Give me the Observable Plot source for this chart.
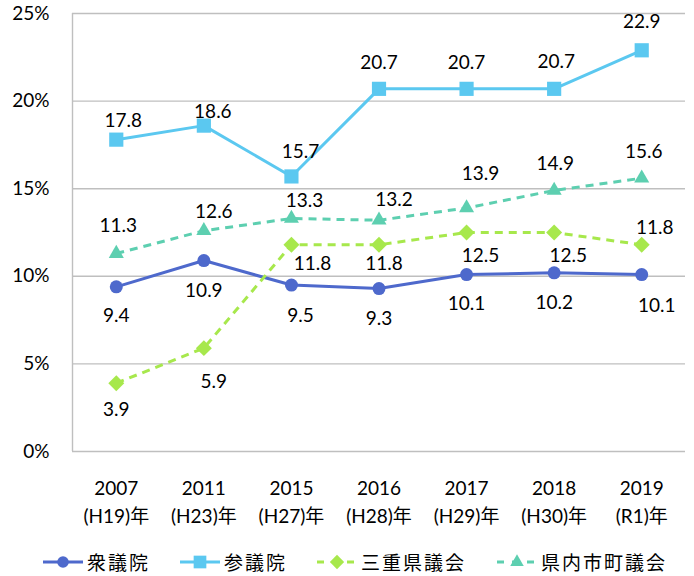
<!DOCTYPE html>
<html><head><meta charset="utf-8">
<script src="https://cdn.jsdelivr.net/npm/d3@7"></script>
<script src="https://cdn.jsdelivr.net/npm/@observablehq/plot@0.6"></script>
<style>
body{margin:0;background:#fff;font-family:Lato,"Noto Sans CJK JP",sans-serif;overflow:hidden;}
#chart svg{display:block;}
#legend{position:relative;height:22px;margin-top:11px;font-family:"Noto Sans CJK JP",sans-serif;font-size:19px;letter-spacing:2px;line-height:22px;color:#000;}
.item{display:flex;align-items:center;position:absolute;top:0;height:22px;}
</style>
</head><body>
<div id="chart"></div>
<div id="legend"></div>
<script>
const years = ["2007","2011","2015","2016","2017","2018","2019"];
const eras = ["(H19)年","(H23)年","(H27)年","(H28)年","(H29)年","(H30)年","(R1)年"];
const shugiin = [9.4,10.9,9.5,9.3,10.1,10.2,10.1];
const sangiin = [17.8,18.6,15.7,20.7,20.7,20.7,22.9];
const mie = [3.9,5.9,11.8,11.8,12.5,12.5,11.8];
const local = [11.3,12.6,13.3,13.2,13.9,14.9,15.6];
const yTicks = [0,5,10,15,20,25];
const seriesNames = ["衆議院","参議院","三重県議会","県内市町議会"];

// styling / label placement (not data)
const series = [
  {name:seriesNames[0], values:shugiin, color:"#4e69cc", symbol:"circle", r:6.5, dash:null,
   off:[[0,29],[0,30],[9,31],[0,30],[0,29],[0,30],[15,31]]},
  {name:seriesNames[1], values:sangiin, color:"#5bc8f0", symbol:"square", r:8, dash:null,
   off:[[7,-19],[9,-14],[9,-25],[0,-26],[0,-26],[2,-27],[0,-28]]},
  {name:seriesNames[2], values:mie, color:"#a7e84c", symbol:"diamond2", r:7.2, dash:"8,6",
   off:[[0,27],[10,34],[21,19],[5,19],[14,23],[14,23],[13,-17]]},
  {name:seriesNames[3], values:local, color:"#5dcfb0", symbol:"triangle", r:5.6, dash:"8,6",
   off:[[2,-28],[10,-19],[13,-18],[15,-20],[14,-34],[1,-27],[2,-26]]}
];

const marks = [
  Plot.gridY(yTicks.filter(d => d > 0), {stroke:"#bfbfbf", strokeOpacity:1, strokeWidth:1.4}),
  Plot.ruleY([0], {stroke:"#bfbfbf", strokeWidth:1.4}),
  Plot.ruleX([-0.5], {y1:0, y2:25, stroke:"#bfbfbf", strokeWidth:1.4}),
  Plot.axisY(yTicks, {label:null, tickSize:0, tickPadding:23, tickFormat:d => d + "%", fontSize:19, fill:"#000"}),
  Plot.axisX(d3.range(years.length), {label:null, tickSize:0, tickPadding:24, tickFormat:i => years[i] + "\n" + eras[i], fontSize:19, lineHeight:1.47, fill:"#000"})
];
for (const s of series) {
  const rows = s.values.map((v,i) => ({x:i, y:v}));
  marks.push(Plot.line(rows, {x:"x", y:"y", stroke:s.color, strokeWidth:3, strokeDasharray:s.dash, strokeLinecap:"butt"}));
}
for (const s of series) {
  const rows = s.values.map((v,i) => ({x:i, y:v}));
  marks.push(Plot.dot(rows, {x:"x", y:"y", symbol:() => s.symbol, r:s.r, fill:s.color, stroke:"none"}));
}
for (const s of series) {
  s.values.forEach((v,i) => {
    marks.push(Plot.text([{x:i, y:v}], {x:"x", y:"y", text:d => d.y.toFixed(1), dx:s.off[i][0], dy:s.off[i][1], fontSize:19, fill:"#000"}));
  });
}

const chart = Plot.plot({
  width:694, height:540,
  marginLeft:72, marginRight:9, marginTop:13, marginBottom:89,
  x:{domain:[-0.5, 6.5], label:null},
  y:{domain:[0,25], label:null},
  style:{fontFamily:'Lato,"Noto Sans CJK JP",sans-serif', background:"#fff", color:"#000"},
  marks
});
document.getElementById("chart").appendChild(chart);

// legend
const legend = d3.select("#legend");
const itemX = [43, 180, 317, 497];
const symGen = {circle:d3.symbolCircle, square:d3.symbolSquare, diamond2:d3.symbolDiamond2, triangle:d3.symbolTriangle};
series.forEach((s,k) => {
  const it = legend.append("div").attr("class","item").style("left", itemX[k] + "px");
  const sw = it.append("svg").attr("width",40).attr("height",22).style("display","block");
  sw.append("line").attr("x1",0).attr("x2",40).attr("y1",11).attr("y2",11)
    .attr("stroke",s.color).attr("stroke-width",3).attr("stroke-dasharray", s.dash ? "7,8" : null);
  sw.append("path").attr("transform","translate(20,11)")
    .attr("d", d3.symbol(symGen[s.symbol], Math.PI * s.r * s.r * 0.8)()).attr("fill", s.color);
  it.append("span").style("margin-left","4px").text(s.name);
});
</script>
</body></html>
